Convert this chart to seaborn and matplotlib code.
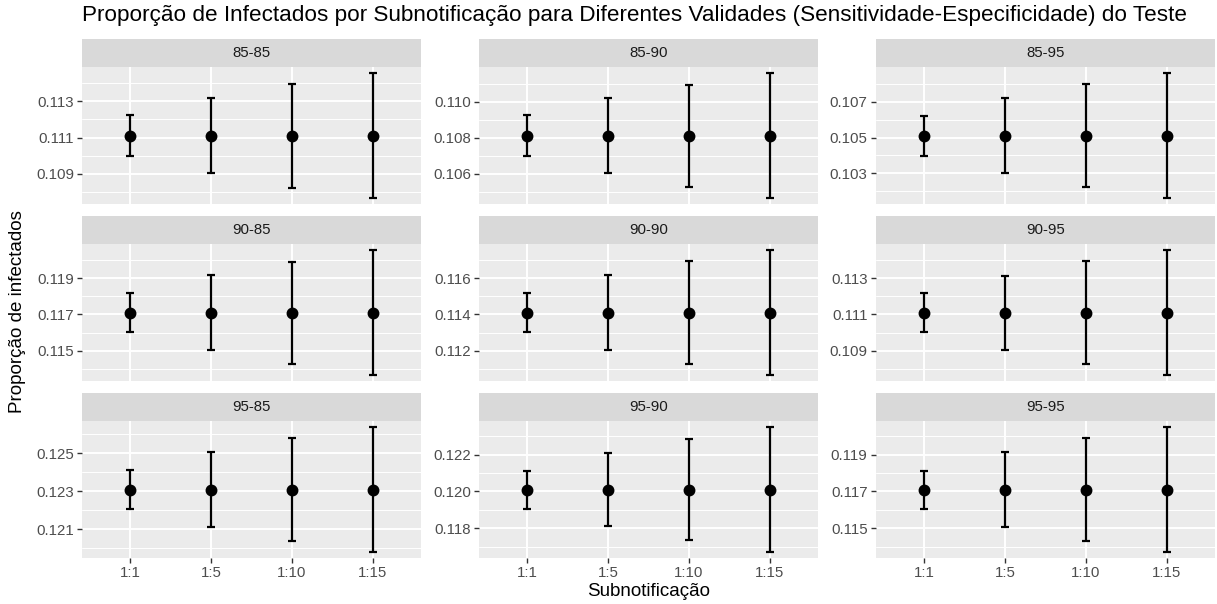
import numpy as np
import pandas as pd
import seaborn as sns
import matplotlib.pyplot as plt
from matplotlib.patches import Rectangle
from matplotlib.ticker import FixedLocator, FormatStrFormatter

# Validade do teste (sensitividade-especificidade) e níveis de subnotificação
validades = ["85-85", "85-90", "85-95",
             "90-85", "90-90", "90-95",
             "95-85", "95-90", "95-95"]
subnotificacao = ["1:1", "1:5", "1:10", "1:15"]

# Proporção estimada de infectados para cada validade
proporcao = [0.1111, 0.1081, 0.1051,
             0.1171, 0.1141, 0.1111,
             0.1231, 0.1201, 0.1171]

# Limites inferior e superior do intervalo, por validade e subnotificação
limite_inferior = [
    [0.10997, 0.10902, 0.10823, 0.10764],
    [0.10697, 0.10603, 0.10526, 0.10463],
    [0.10399, 0.10300, 0.10223, 0.10160],
    [0.11601, 0.11504, 0.11428, 0.11365],
    [0.11301, 0.11204, 0.11126, 0.11065],
    [0.11002, 0.10905, 0.10826, 0.10765],
    [0.12207, 0.12113, 0.12039, 0.11981],
    [0.11907, 0.11810, 0.11734, 0.11671],
    [0.11607, 0.11508, 0.11430, 0.11371],
]
limite_superior = [
    [0.11223, 0.11318, 0.11397, 0.11456],
    [0.10923, 0.11017, 0.11094, 0.11157],
    [0.10621, 0.10720, 0.10797, 0.10860],
    [0.11819, 0.11916, 0.11992, 0.12055],
    [0.11519, 0.11616, 0.11694, 0.11755],
    [0.11218, 0.11315, 0.11394, 0.11455],
    [0.12413, 0.12507, 0.12581, 0.12639],
    [0.12113, 0.12210, 0.12286, 0.12349],
    [0.11813, 0.11912, 0.11990, 0.12049],
]

titulo = ("Proporção de Infectados por Subnotificação para Diferentes "
          "Validades (Sensitividade-Especificidade) do Teste")
rotulo_x = "Subnotificação"
rotulo_y = "Proporção de infectados"

df = pd.DataFrame({
    "validade": np.repeat(validades, len(subnotificacao)),
    "subnotificacao": np.tile(subnotificacao, len(validades)),
    "proporcao": np.repeat(proporcao, len(subnotificacao)),
    "inferior": np.ravel(limite_inferior),
    "superior": np.ravel(limite_superior),
})

# Aparência no estilo "cinza" com grades brancas
sns.set_theme(style="darkgrid", rc={
    "axes.facecolor": "#EBEBEB",
    "grid.color": "white",
    "grid.linewidth": 1.4,
    "axes.edgecolor": "none",
    "xtick.color": "#333333",
    "ytick.color": "#333333",
    "xtick.labelcolor": "#4D4D4D",
    "ytick.labelcolor": "#4D4D4D",
    "xtick.bottom": True,
    "ytick.left": True,
    "xtick.major.size": 3.6,
    "ytick.major.size": 3.6,
    "xtick.major.width": 1.0,
    "ytick.major.width": 1.0,
    "xtick.major.pad": 2.2,
    "ytick.major.pad": 2.2,
    "xtick.labelsize": 10.8,
    "ytick.labelsize": 10.8,
})
plt.rcParams["font.family"] = ["Liberation Sans", "DejaVu Sans"]


def desenha_intervalos(data, **kws):
    ax = plt.gca()
    pos = np.arange(len(data))
    centro = data["proporcao"].to_numpy()
    erro = [centro - data["inferior"].to_numpy(),
            data["superior"].to_numpy() - centro]
    ax.errorbar(pos, centro, yerr=erro, fmt="none", ecolor="black",
                elinewidth=1.6, capsize=2.9, capthick=1.6, zorder=2)
    sns.pointplot(data=data, x="subnotificacao", y="proporcao",
                  order=subnotificacao, color="black", linestyle="none",
                  errorbar=None, markersize=6.5, ax=ax)


g = sns.FacetGrid(df, col="validade", col_order=validades, col_wrap=3,
                  sharex=True, sharey=False, height=2, aspect=2)
g.map_dataframe(desenha_intervalos)
g.set_axis_labels("", "")
g.set_titles("")

fig = g.figure
fig.set_size_inches(12.17, 6.04)
fig.set_dpi(100)
fig.subplots_adjust(left=82 / 1217, right=1215 / 1217,
                    top=1 - 67 / 604, bottom=1 - 558.3 / 604,
                    wspace=0.1695, hspace=0.287)

altura_faixa = 28 / 137.5
for i, (ax, nome) in enumerate(zip(g.axes.flat, validades)):
    inf = np.array(limite_inferior[i])
    sup = np.array(limite_superior[i])
    lo, hi = inf.min(), sup.max()
    margem = 0.05 * (hi - lo)
    ax.set_ylim(lo - margem, hi + margem)
    ax.set_xlim(-0.6, len(subnotificacao) - 0.4)

    centro = round(proporcao[i], 3)
    maiores = [centro - 0.002, centro, centro + 0.002]
    menores = [centro - 0.003, centro - 0.001, centro + 0.001, centro + 0.003]
    ax.yaxis.set_major_locator(FixedLocator(maiores))
    ax.yaxis.set_minor_locator(FixedLocator(menores))
    ax.yaxis.set_major_formatter(FormatStrFormatter("%.3f"))
    ax.grid(which="major", color="white", linewidth=1.4)
    ax.grid(which="minor", axis="y", color="white", linewidth=0.7)
    ax.tick_params(which="minor", length=0)
    ax.set_axisbelow(True)
    ax.set_xlabel("")
    ax.set_ylabel("")
    for s in ax.spines.values():
        s.set_visible(False)

    if i < 6:
        ax.tick_params(axis="x", bottom=False, labelbottom=False)
    else:
        ax.tick_params(axis="x", bottom=True, labelbottom=True)
        ax.set_xticks(range(len(subnotificacao)))
        ax.set_xticklabels(subnotificacao)

    # faixa com o nome do painel
    ax.add_patch(Rectangle((0, 1), 1, altura_faixa, transform=ax.transAxes,
                           facecolor="#D9D9D9", edgecolor="none",
                           clip_on=False, zorder=5))
    ax.text(0.5, 1 + altura_faixa / 2, nome, transform=ax.transAxes,
            ha="center", va="center", fontsize=10.8, color="#1A1A1A",
            zorder=6)

fig.text(82 / 1217, 1 - 15 / 604, titulo, ha="left", va="center",
         fontsize=16.2, color="black")
fig.text((82 + 1215) / 2 / 1217, 1 - 592 / 604, rotulo_x, ha="center",
         va="center", fontsize=13.5, color="black")
fig.text(18 / 1217, 1 - 312 / 604, rotulo_y, ha="center",
         va="center", rotation=90, fontsize=13.5, color="black")

fig.savefig("out.png", dpi=100)
